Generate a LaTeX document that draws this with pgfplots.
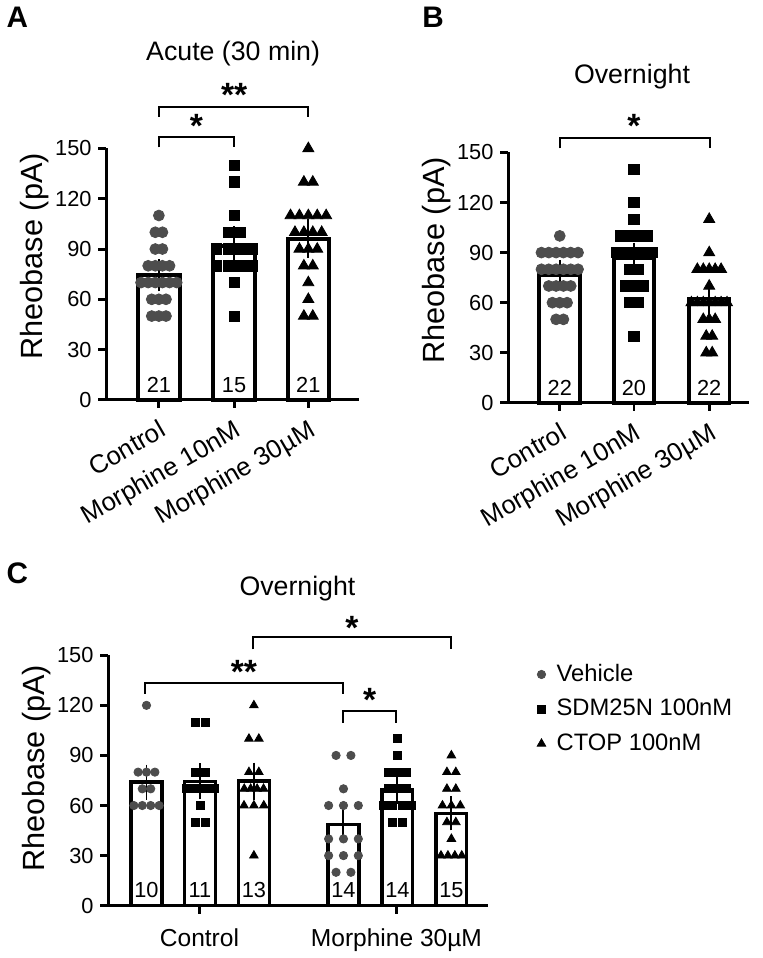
\documentclass[border=0pt]{standalone}
\usepackage{pgfplots}
\pgfplotsset{compat=1.18}
\usepackage{fontspec}
\setmainfont{Liberation Sans}
\definecolor{dotgray}{RGB}{77,77,77}
\newcommand\fs[1]{\fontsize{#1}{#1}\selectfont}
\pgfplotsset{
 panel/.style={
  scale only axis, anchor=south west,
  axis lines=left,
  axis line style={-, line width=1.5pt, black},
  ymin=0, ymax=150, ytick={0,30,60,90,120,150},
  tick align=outside,
  major tick length=4pt,
  every tick/.style={black, line width=1.5pt},
  yticklabel style={font=\fs{11}},
  /pgf/number format/assume math mode=true,
  clip=false,
 },
 circA/.style={only marks, mark=*, mark size=2.75pt, color=dotgray, mark options={draw=none, fill=dotgray}},
 sqA/.style={only marks, mark=square*, mark size=2.6pt, color=black, mark options={draw=none, fill=black}},
 triA/.style={only marks, mark=triangle*, mark size=3.2pt, color=black, mark options={draw=none, fill=black}},
 circC/.style={only marks, mark=*, mark size=2.1pt, color=dotgray, mark options={draw=none, fill=dotgray}},
 sqC/.style={only marks, mark=square*, mark size=2pt, color=black, mark options={draw=none, fill=black}},
 triC/.style={only marks, mark=triangle*, mark size=2.5pt, color=black, mark options={draw=none, fill=black}},
 errs/.style={forget plot, draw=none, mark=none,
  error bars/y dir=both, error bars/y explicit,
  error bars/error bar style={draw=black, line width=1pt, solid},
  error bars/error mark options={draw=black, line width=1pt, mark size=#1}},
}
\begin{document}
\begin{tikzpicture}
\begin{scope}[x=0.5pt, y=-0.5pt, yshift=479pt]
\path[use as bounding box] (0,0) rectangle (766,958);
\end{scope}
% ---------------- Panel A ----------------
\begin{axis}[panel, at={(51.5pt,277.5pt)}, width=127.5pt, height=127pt,
  xmin=103, xmax=358, xtick={156,232,307},
  xticklabels={Control, Morphine 10nM, Morphine 30µM},
  xticklabel shift=4pt,
  xticklabel style={rotate=30, anchor=north east, font=\fs{13}, inner sep=1pt}]
\addplot[forget plot, ybar, bar width=21pt, fill=white, draw=black, line width=2pt]
  coordinates {(156,74.3) (232,92) (307,96.2)};
\addplot[circA] coordinates {
(156,110)
(152.4,100)(159.6,100)
(152.4,90)(159.6,90)
(145.2,80)(152.4,80)(159.6,80)(166.8,80)
(138,70)(145.2,70)(152.4,70)(159.6,70)(166.8,70)(174,70)
(148.8,60)(156,60)(163.2,60)
(148.8,50)(156,50)(163.2,50)};
\addplot[sqA] coordinates {
(232,140)(232,130)(232,110)(226,100)(238,100)
(214,90)(226,90)(238,90)(250,90)
(214,80)(226,80)(238,80)(250,80)
(232,70)(232,50)};
\addplot[triA] coordinates {
(307,150)(302.5,130)(311.5,130)
(289,110)(298,110)(307,110)(316,110)(325,110)
(293.5,100)(302.5,100)(311.5,100)(320.5,100)
(298,90)(307,90)(316,90)
(302.5,80)(311.5,80)
(307,70)(307,60)(302.5,50)(311.5,50)};
\addplot[errs=5pt] coordinates {(156,74.3) +- (0,3.7) (232,92) +- (0,5.8) (307,96.2) +- (0,5.6)};
\node[font=\fs{11}] at (axis cs:156,9) {21};
\node[font=\fs{11}] at (axis cs:232,9) {15};
\node[font=\fs{11}] at (axis cs:307,9) {21};
\end{axis}
% ---------------- Panel B ----------------
\begin{axis}[panel, at={(254.5pt,276pt)}, width=121.5pt, height=126.5pt,
  xmin=509, xmax=752, xtick={561,636,712},
  xticklabels={Control, Morphine 10nM, Morphine 30µM},
  xticklabel shift=4pt,
  xticklabel style={rotate=30, anchor=north east, font=\fs{13}, inner sep=1pt}]
\addplot[forget plot, ybar, bar width=20.5pt, fill=white, draw=black, line width=2pt]
  coordinates {(561,76.4) (636,86.5) (712,62.5)};
\addplot[circA] coordinates {
(561,100)
(542.5,90)(549.9,90)(557.3,90)(564.7,90)(572.1,90)(579.5,90)
(542.5,80)(549.9,80)(557.3,80)(564.7,80)(572.1,80)(579.5,80)
(549.9,70)(557.3,70)(564.7,70)(572.1,70)
(553.6,60)(561,60)(568.4,60)
(557.3,50)(564.7,50)};
\addplot[sqA] coordinates {
(636,140)(636,120)(636,110)
(622.5,100)(631.5,100)(640.5,100)(649.5,100)
(618,90)(627,90)(636,90)(645,90)(654,90)
(631.5,80)(640.5,80)
(627,70)(636,70)(645,70)
(631.5,60)(640.5,60)
(636,40)};
\addplot[triA] coordinates {
(712,110)(712,90)
(700,80)(706,80)(712,80)(718,80)(724,80)
(712,70)
(694,60)(700,60)(706,60)(712,60)(718,60)(724,60)(730,60)
(706,50)(712,50)(718,50)
(709,40)(715,40)(709,30)(715,30)};
\addplot[errs=5pt] coordinates {(561,76.4) +- (0,3.0) (636,86.5) +- (0,3.5) (712,62.5) +- (0,4.3)};
\node[font=\fs{11}] at (axis cs:561,9) {22};
\node[font=\fs{11}] at (axis cs:636,9) {20};
\node[font=\fs{11}] at (axis cs:712,9) {22};
\end{axis}
% ---------------- Panel C ----------------
\begin{axis}[panel, at={(52.5pt,22pt)}, width=191.5pt, height=126.5pt,
  xmin=105, xmax=488, xtick={197,396},
  xticklabels={Control, Morphine 30µM},
  xticklabel shift=4pt,
  xticklabel style={font=\fs{12.4}},
  legend style={at={(1.13,0.994)}, anchor=north west, draw=none, fill=none,
    inner sep=0pt, column sep=5.5pt, row sep=0pt, font=\fs{12},
    nodes={inner sep=0pt, minimum height=17.5pt}},
  legend cell align=left]
\addplot[forget plot, ybar, bar width=15.5pt, fill=white, draw=black, line width=1.7pt]
  coordinates {(143.5,74) (197.5,74.5) (252,74.6) (342.5,48.6) (397,69.5) (451.5,55.3)};
\addplot[circC] coordinates {
(143.5,120)(135,80)(143.5,80)(152,80)(139.25,70)(147.75,70)
(130.75,60)(139.25,60)(147.75,60)(156.25,60)
(335,90)(350,90)(342.5,70)(327.5,60)(342.5,60)(357.5,60)
(327.5,40)(342.5,40)(357.5,40)(327.5,30)(342.5,30)(357.5,30)(335,20)(350,20)};
\addlegendentry{Vehicle}
\addplot[sqC] coordinates {
(193.25,110)(202.75,110)(193.25,80)(202.75,80)
(183.75,70)(193.25,70)(202.75,70)(212.25,70)(198,60)(193.25,50)(202.75,50)
(397,100)(397,90)(387.5,80)(397,80)(406.5,80)(387.5,70)(397,70)(406.5,70)
(382.75,60)(392.25,60)(401.75,60)(411.25,60)(392.25,50)(401.75,50)};
\addlegendentry{SDM25N 100nM}
\addplot[triC] coordinates {
(252,120)(247,100)(257,100)(247,80)(257,80)
(242.25,70)(248.75,70)(255.25,70)(261.75,70)(242,60)(252,60)(262,60)(252,30)
(451.5,90)(447,80)(456,80)(447,70)(456,70)(442.5,60)(451.5,60)(460.5,60)
(447,50)(456,50)(451.5,40)(441,30)(448,30)(455,30)(462,30)};
\addlegendentry{CTOP 100nM}
\addplot[errs=4pt] coordinates {(143.5,74) +- (0,5.8) (197.5,74.5) +- (0,6.1) (252,74.6) +- (0,6.3)
  (342.5,48.6) +- (0,6.2) (397,69.5) +- (0,3.7) (451.5,55.3) +- (0,5.4)};
\node[font=\fs{11}] at (axis cs:143.5,9.5) {10};
\node[font=\fs{11}] at (axis cs:197.5,9.5) {11};
\node[font=\fs{11}] at (axis cs:252,9.5) {13};
\node[font=\fs{11}] at (axis cs:342.5,9.5) {14};
\node[font=\fs{11}] at (axis cs:397,9.5) {14};
\node[font=\fs{11}] at (axis cs:451.5,9.5) {15};
\end{axis}
% ---------------- annotations (pixel coordinates, y down) ----------------
\begin{scope}[x=0.5pt, y=-0.5pt, yshift=479pt]
\node[font=\bfseries\fs{15}] at (13,16) {A};
\node[font=\bfseries\fs{15}] at (433,16) {B};
\node[font=\bfseries\fs{15}] at (13,578) {C};
\node[font=\fs{13.5}] at (231,53) {Acute (30 min)};
\node[font=\fs{13.5}] at (634,76) {Overnight};
\node[font=\fs{13.5}] at (296,594) {Overnight};
\node[font=\fs{15.5}, rotate=90] at (30,258) {Rheobase (pA)};
\node[font=\fs{15.5}, rotate=90] at (437,262) {Rheobase (pA)};
\node[font=\fs{15.5}, rotate=90] at (32,775) {Rheobase (pA)};
% brackets
\draw[line width=1pt] (156,148) -- (156,137) -- (232,137) -- (232,148);
\draw[line width=1pt] (156,117) -- (156,107) -- (307,107) -- (307,117);
\draw[line width=1pt] (561,149) -- (561,138) -- (713,138) -- (713,149);
\draw[line width=1pt] (251,655) -- (251,643) -- (451,643) -- (451,655);
\draw[line width=1pt] (142,700) -- (142,689) -- (342,689) -- (342,700);
\draw[line width=1pt] (342,729) -- (342,717) -- (396,717) -- (396,729);
% stars
\node[font=\bfseries\fs{17}, anchor=base, inner sep=0pt] at (194,138) {*};
\node[font=\bfseries\fs{17}, anchor=base, inner sep=0pt] at (232,107) {**};
\node[font=\bfseries\fs{17}, anchor=base, inner sep=0pt] at (636,138) {*};
\node[font=\bfseries\fs{17}, anchor=base, inner sep=0pt] at (351,645) {*};
\node[font=\bfseries\fs{17}, anchor=base, inner sep=0pt] at (242,690) {**};
\node[font=\bfseries\fs{17}, anchor=base, inner sep=0pt] at (369,718) {*};
\end{scope}
\end{tikzpicture}
\end{document}
